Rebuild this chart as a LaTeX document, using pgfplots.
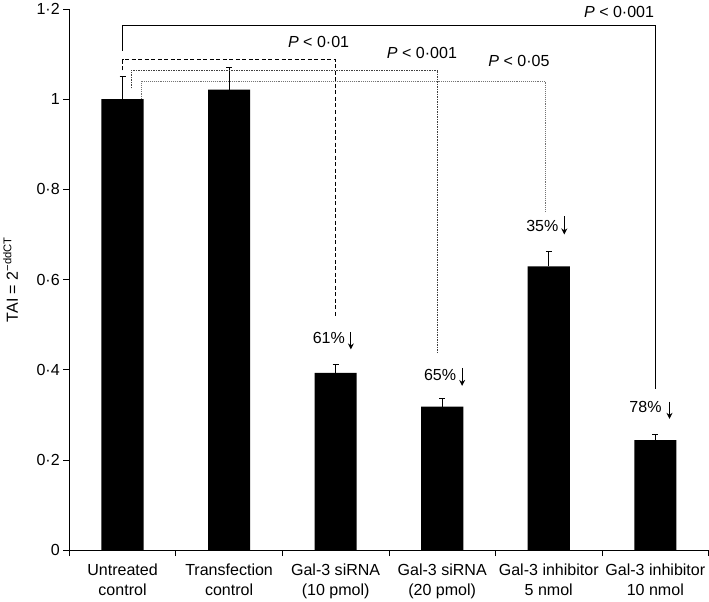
\documentclass[border=0pt]{standalone}
\usepackage{fontspec}
\setmainfont{Liberation Sans}
\usepackage{pgfplots}
\pgfplotsset{compat=1.18}
\usetikzlibrary{arrows.meta}

\begin{document}
\begin{tikzpicture}[font=\fontsize{16}{19}\selectfont]
\begin{axis}[
    width=638pt, height=540pt, scale only axis,
    ybar, bar width=42pt,
    xmin=-0.5, xmax=5.5, ymin=0, ymax=1.2,
    clip=false,
    axis lines*=left,
    axis line style={line width=0.8pt},
    tick align=outside,
    major tick length=6pt, minor tick length=6pt,
    tick style={black, line width=0.8pt},
    major x tick style={draw=none},
    xtick={0,...,5},
    minor xtick={-0.5,0.5,...,5.5},
    xticklabel style={align=center, yshift=-4pt, font=\fontsize{16}{20}\selectfont},
    xticklabels={{Untreated\\control},{Transfection\\control},{Gal-3 siRNA\\(10 pmol)},{Gal-3 siRNA\\(20 pmol)},{Gal-3 inhibitor\\5 nmol},{Gal-3 inhibitor\\10 nmol}},
    ytick={0,0.2,0.4,0.6,0.8,1,1.2},
    yticklabels={0,0·2,0·4,0·6,0·8,1,1·2},
    yticklabel style={font=\fontsize{16}{19}\selectfont},
    ylabel={TAI = 2\textsuperscript{−ddCT}},
    ylabel style={at={(axis description cs:-0.075,0.5)}, anchor=south, font=\fontsize{16}{19}\selectfont},
]
% bars: mean TAI with upper error
\addplot[fill=black, draw=none,
    error bars/.cd, y dir=plus, y explicit,
    error bar style={line width=0.8pt, black},
    error mark options={rotate=90, mark size=3pt, line width=0.8pt}]
coordinates {
    (0,1.000) +- (0,0.051)
    (1,1.021) +- (0,0.050)
    (2,0.393) +- (0,0.018)
    (3,0.318) +- (0,0.018)
    (4,0.629) +- (0,0.033)
    (5,0.244) +- (0,0.012)
};

% significance brackets
\draw[line width=1.3pt] (axis cs:0,1.107) -- (axis cs:0,1.164) -- (axis cs:5,1.164) -- (axis cs:5,0.358);
\draw[line width=0.9pt, dash pattern=on 4pt off 2.5pt] (axis cs:0,1.064) -- (axis cs:0,1.087) -- (axis cs:2,1.087) -- (axis cs:2,0.516);
\draw[line width=0.9pt, black!75, dash pattern=on 1.5pt off 1pt] (axis cs:0.083,1.024) -- (axis cs:0.083,1.064) -- (axis cs:2.96,1.064) -- (axis cs:2.96,0.436);
\draw[line width=0.9pt, black!55, densely dotted] (axis cs:0.177,1.0) -- (axis cs:0.177,1.04) -- (axis cs:3.97,1.04) -- (axis cs:3.97,0.751);

\node at (axis cs:4.66,1.193) {\textit{P} < 0·001};
\node at (axis cs:1.84,1.127) {\textit{P} < 0·01};
\node at (axis cs:2.81,1.102) {\textit{P} < 0·001};
\node at (axis cs:3.72,1.084) {\textit{P} < 0·05};

% percent decrease labels
\node at (axis cs:1.936,0.471) {61\%};
\node at (axis cs:2.98,0.389) {65\%};
\node at (axis cs:3.94,0.718) {35\%};
\node at (axis cs:4.908,0.318) {78\%};
\draw[-{Stealth[length=6pt,width=6pt]}, line width=1.1pt] (axis cs:2.143,0.484) -- (axis cs:2.143,0.445);
\draw[-{Stealth[length=6pt,width=6pt]}, line width=1.1pt] (axis cs:3.187,0.404) -- (axis cs:3.187,0.364);
\draw[-{Stealth[length=6pt,width=6pt]}, line width=1.1pt] (axis cs:4.146,0.740) -- (axis cs:4.146,0.700);
\draw[-{Stealth[length=6pt,width=6pt]}, line width=1.1pt] (axis cs:5.133,0.329) -- (axis cs:5.133,0.291);
\end{axis}
\end{tikzpicture}
\end{document}
